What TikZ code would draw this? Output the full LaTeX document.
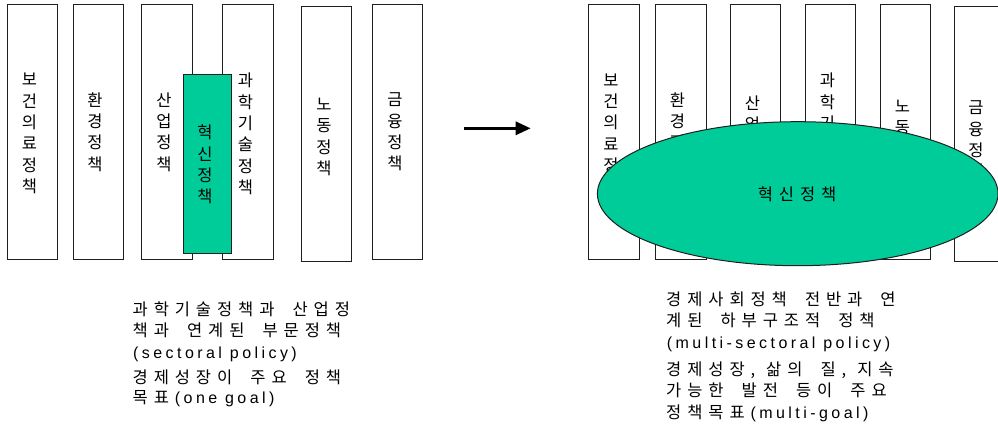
\documentclass[tikz,border=0pt]{standalone}
\usepackage{fontspec}
\usetikzlibrary{arrows.meta,shapes.geometric}
\newfontfamily\kobar{Noto Sans CJK KR}
\newfontfamily\kofont{Noto Sans CJK KR}
\newfontfamily\lafont[LetterSpace=21.5]{Liberation Sans}
\newcommand{\la}[1]{{\lafont\fontsize{16}{18}\selectfont #1}}

% Tracked Korean text: every character sits in a box of fixed pitch,
% words are separated by a fixed gap.
\ExplSyntaxOn
\seq_new:N \l__trk_words_seq
\bool_new:N \l__trk_first_bool
\cs_new_protected:Npn \__trk_char:n #1
  {
    \str_if_eq:nnTF { #1 } { , }
      { \makebox[3.4pt][l]{#1} }
      { \makebox[21.1pt][l]{#1} }
  }
\NewDocumentCommand \tk { m }
  {
    \group_begin:
    \kofont \fontsize{16.5}{19}\selectfont
    \seq_set_split:Nnn \l__trk_words_seq { ~ } { #1 }
    \bool_set_true:N \l__trk_first_bool
    \seq_map_inline:Nn \l__trk_words_seq
      {
        \bool_if:NF \l__trk_first_bool { \hspace{12.2pt} }
        \bool_set_false:N \l__trk_first_bool
        \tl_map_inline:nn { ##1 } { \__trk_char:n { ####1 } }
      }
    \group_end:
  }
\ExplSyntaxOff

\definecolor{policygreen}{RGB}{0,204,153}
\definecolor{edge}{RGB}{30,30,30}
\tikzset{
  bar/.style={draw=edge, line width=1pt, fill=white, rectangle, inner sep=0pt,
    minimum height=255pt},
  vtext/.style={font=\kobar\fontsize{16.5}{21.4}\selectfont, align=center,
    inner sep=0pt, text=black},
  caption/.style={anchor=base west, inner sep=0pt, text=black},
}
\begin{document}
\begin{tikzpicture}[x=1pt,y=-1pt]
\useasboundingbox (0,0) rectangle (998,426);
\clip (0,0) rectangle (998,426);

% --- sectoral view: separate policy columns ---
\node[bar, minimum width=50pt]   (L1) at (32.3,131.5) {};
\node[bar, minimum width=50.4pt] (L2) at (98.5,131.5) {};
\node[bar, minimum width=50.6pt] (L3) at (167,131.5) {};
\node[bar, minimum width=50.6pt] (L4) at (248,131.5) {};
\node[bar, minimum width=50pt]   (L5) at (326.7,133.5) {};
\node[bar, minimum width=50.2pt] (L6) at (397.4,131.5) {};
\node[vtext] (L1t) at (29.5,133.5) {보\\건\\의\\료\\정\\책};
\node[vtext] (L2t) at (95,132) {환\\경\\정\\책};
\node[vtext] (L3t) at (164,132) {산\\업\\정\\책};
\node[vtext] (L4t) at (245.5,134) {과\\학\\기\\술\\정\\책};
\node[vtext] (L5t) at (324,137) {노\\동\\정\\책};
\node[vtext] (L6t) at (395,132) {금\\융\\정\\책};
% innovation policy as one more column
\node[bar, fill=policygreen, minimum width=47.3pt, minimum height=179pt] (G) at (207.35,163.8) {};
\node[vtext] (Gt) at (205,164.5) {혁\\신\\정\\책};

% --- transition arrow ---
\coordinate (arrS) at (464,128.3);
\coordinate (arrE) at (530.7,128.3);
\draw[line width=3pt, -{Triangle[length=15pt,width=13pt]}] (arrS) -- (arrE);

% --- multi-sectoral view: innovation policy spans all columns ---
\node[bar, minimum width=51pt]   (R1) at (613.8,131.5) {};
\node[bar, minimum width=50.3pt] (R2) at (680.85,131.5) {};
\node[bar, minimum width=50pt]   (R3) at (755.7,131.5) {};
\node[bar, minimum width=50.4pt] (R4) at (830.5,131.5) {};
\node[bar, minimum width=50pt]   (R5) at (905.7,131.5) {};
\node[bar, minimum width=50pt]   (R6) at (979,133.5) {};
\node[vtext] (R1t) at (611,134) {보\\건\\의\\료\\정\\책};
\node[vtext] (R2t) at (677.5,132) {환\\경\\정\\책};
\node[vtext] (R3t) at (752.5,135) {산\\업\\정\\책};
\node[vtext] (R4t) at (827.5,134) {과\\학\\기\\술\\정\\책};
\node[vtext] (R5t) at (902.5,139) {노\\동\\정\\책};
\node[vtext] (R6t) at (976,140) {금\\융\\정\\책};
\node[ellipse, draw=edge, line width=1pt, fill=policygreen, inner sep=0pt,
      minimum width=400.6pt, minimum height=144pt] (E) at (797.7,193.7) {};
\node[caption] (Et) at (757.6,200) {\tk{혁신정책}};

% --- captions ---
\node[caption] (c1) at (132.5,315)   {\tk{과학기술정책과 산업정}};
\node[caption] (c2) at (132.5,336.7) {\tk{책과 연계된 부문정책}};
\node[caption] (c3) at (133,358.3)   {\la{(sectoral policy)}};
\node[caption] (c4) at (132.5,383.3) {\tk{경제성장이 주요 정책}};
\node[caption] (c5) at (132.5,403.3) {\tk{목표}\la{(one goal)}};

\node[caption] (d1) at (666,305)   {\tk{경제사회정책 전반과 연}};
\node[caption] (d2) at (666,326.7) {\tk{계된 하부구조적 정책}};
\node[caption] (d3) at (666.7,348.3) {\la{(multi-sectoral policy)}};
\node[caption] (d4) at (666,375)   {\tk{경제성장, 삶의 질, 지속}};
\node[caption] (d5) at (666,396.7) {\tk{가능한 발전 등이 주요}};
\node[caption] (d6) at (666,418.3) {\tk{정책목표}\la{(multi-goal)}};
\end{tikzpicture}
\end{document}
